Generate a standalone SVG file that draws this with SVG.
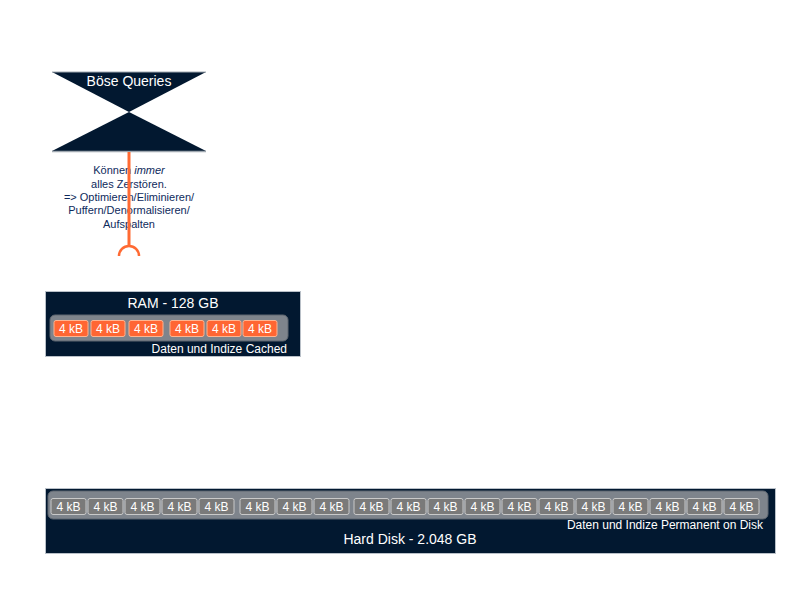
<svg xmlns="http://www.w3.org/2000/svg" width="800" height="600" viewBox="0 0 800 600">
<style>
text{font-family:"Liberation Sans",Arial,sans-serif}
.panel{fill:#021830;stroke:#b9c0c8;stroke-width:1}
.strip{fill:#7e848c;stroke:#5e6670;stroke-width:1}
.cell{fill:#7a7a7a;stroke:#c9c9c9;stroke-width:1}
.ocell{fill:#ff6633;stroke:#ffb490;stroke-width:1}
.ct{fill:#ffffff;font-size:12px;text-anchor:middle}
.title{fill:#ffffff;font-size:14px;text-anchor:middle}
.sub{fill:#ffffff;font-size:12px;text-anchor:end}
.note{fill:#0e2a5c;font-size:11px;text-anchor:middle}
</style>
<rect width="800" height="600" fill="#ffffff"/>

<g id="boese-queries">
<polygon points="52,72 206,72 129,112" fill="#021830"/>
<polygon points="129,112 52,151 206,151" fill="#021830"/>
<line x1="52" y1="72" x2="206" y2="72" stroke="#a0a8b0" stroke-width="1"/>
<line x1="52" y1="151.5" x2="206" y2="151.5" stroke="#a0a8b0" stroke-width="1.5"/>
<text class="title" x="129" y="86">Böse Queries</text>
</g>

<g id="note">
<text class="note" x="129" y="174">Können <tspan font-style="italic">immer</tspan></text>
<text class="note" x="129" y="188">alles Zerstören.</text>
<text class="note" x="129" y="201">=&gt; Optimieren/Eliminieren/</text>
<text class="note" x="129" y="214">Puffern/Denormalisieren/</text>
<text class="note" x="129" y="228">Aufspalten</text>
</g>

<g id="connectors">
<line x1="129" y1="152" x2="129" y2="246" stroke="#ff6a33" stroke-width="3"/>
<path d="M119,256 A10,10 0 0 1 139,256" fill="none" stroke="#ff6a33" stroke-width="2.5"/>
</g>

<g id="ram">
<rect class="panel" x="45.5" y="291.5" width="255" height="65"/>
<text class="title" x="173" y="308">RAM - 128 GB</text>
<rect class="strip" x="50" y="315" width="238" height="26" rx="5"/>
<rect class="ocell" x="54" y="320.5" width="34" height="16" rx="2"/><text class="ct" x="71" y="333">4 kB</text>
<rect class="ocell" x="91" y="320.5" width="34" height="16" rx="2"/><text class="ct" x="108" y="333">4 kB</text>
<rect class="ocell" x="129" y="320.5" width="34" height="16" rx="2"/><text class="ct" x="146" y="333">4 kB</text>
<rect class="ocell" x="170" y="320.5" width="34" height="16" rx="2"/><text class="ct" x="187" y="333">4 kB</text>
<rect class="ocell" x="207" y="320.5" width="34" height="16" rx="2"/><text class="ct" x="224" y="333">4 kB</text>
<rect class="ocell" x="243" y="320.5" width="34" height="16" rx="2"/><text class="ct" x="260" y="333">4 kB</text>
<text class="sub" x="287" y="353">Daten und Indize Cached</text>
</g>

<g id="hard-disk">
<rect class="panel" x="45.5" y="488.5" width="730" height="65"/>
<rect class="strip" x="48" y="491" width="720" height="28" rx="5"/>
<rect class="cell" x="51" y="498.5" width="35" height="16" rx="2"/><text class="ct" x="68.5" y="511">4 kB</text>
<rect class="cell" x="88" y="498.5" width="35" height="16" rx="2"/><text class="ct" x="105.5" y="511">4 kB</text>
<rect class="cell" x="125" y="498.5" width="35" height="16" rx="2"/><text class="ct" x="142.5" y="511">4 kB</text>
<rect class="cell" x="162" y="498.5" width="35" height="16" rx="2"/><text class="ct" x="179.5" y="511">4 kB</text>
<rect class="cell" x="199" y="498.5" width="35" height="16" rx="2"/><text class="ct" x="216.5" y="511">4 kB</text>
<rect class="cell" x="240" y="498.5" width="35" height="16" rx="2"/><text class="ct" x="257.5" y="511">4 kB</text>
<rect class="cell" x="277" y="498.5" width="35" height="16" rx="2"/><text class="ct" x="294.5" y="511">4 kB</text>
<rect class="cell" x="314" y="498.5" width="35" height="16" rx="2"/><text class="ct" x="331.5" y="511">4 kB</text>
<rect class="cell" x="354" y="498.5" width="35" height="16" rx="2"/><text class="ct" x="371.5" y="511">4 kB</text>
<rect class="cell" x="391" y="498.5" width="35" height="16" rx="2"/><text class="ct" x="408.5" y="511">4 kB</text>
<rect class="cell" x="428" y="498.5" width="35" height="16" rx="2"/><text class="ct" x="445.5" y="511">4 kB</text>
<rect class="cell" x="465" y="498.5" width="35" height="16" rx="2"/><text class="ct" x="482.5" y="511">4 kB</text>
<rect class="cell" x="502" y="498.5" width="35" height="16" rx="2"/><text class="ct" x="519.5" y="511">4 kB</text>
<rect class="cell" x="539" y="498.5" width="35" height="16" rx="2"/><text class="ct" x="556.5" y="511">4 kB</text>
<rect class="cell" x="576" y="498.5" width="35" height="16" rx="2"/><text class="ct" x="593.5" y="511">4 kB</text>
<rect class="cell" x="613" y="498.5" width="35" height="16" rx="2"/><text class="ct" x="630.5" y="511">4 kB</text>
<rect class="cell" x="650" y="498.5" width="35" height="16" rx="2"/><text class="ct" x="667.5" y="511">4 kB</text>
<rect class="cell" x="687" y="498.5" width="35" height="16" rx="2"/><text class="ct" x="704.5" y="511">4 kB</text>
<rect class="cell" x="724" y="498.5" width="35" height="16" rx="2"/><text class="ct" x="741.5" y="511">4 kB</text>
<text class="sub" x="763" y="529">Daten und Indize Permanent on Disk</text>
<text class="title" x="410" y="544">Hard Disk - 2.048 GB</text>
</g>
</svg>
